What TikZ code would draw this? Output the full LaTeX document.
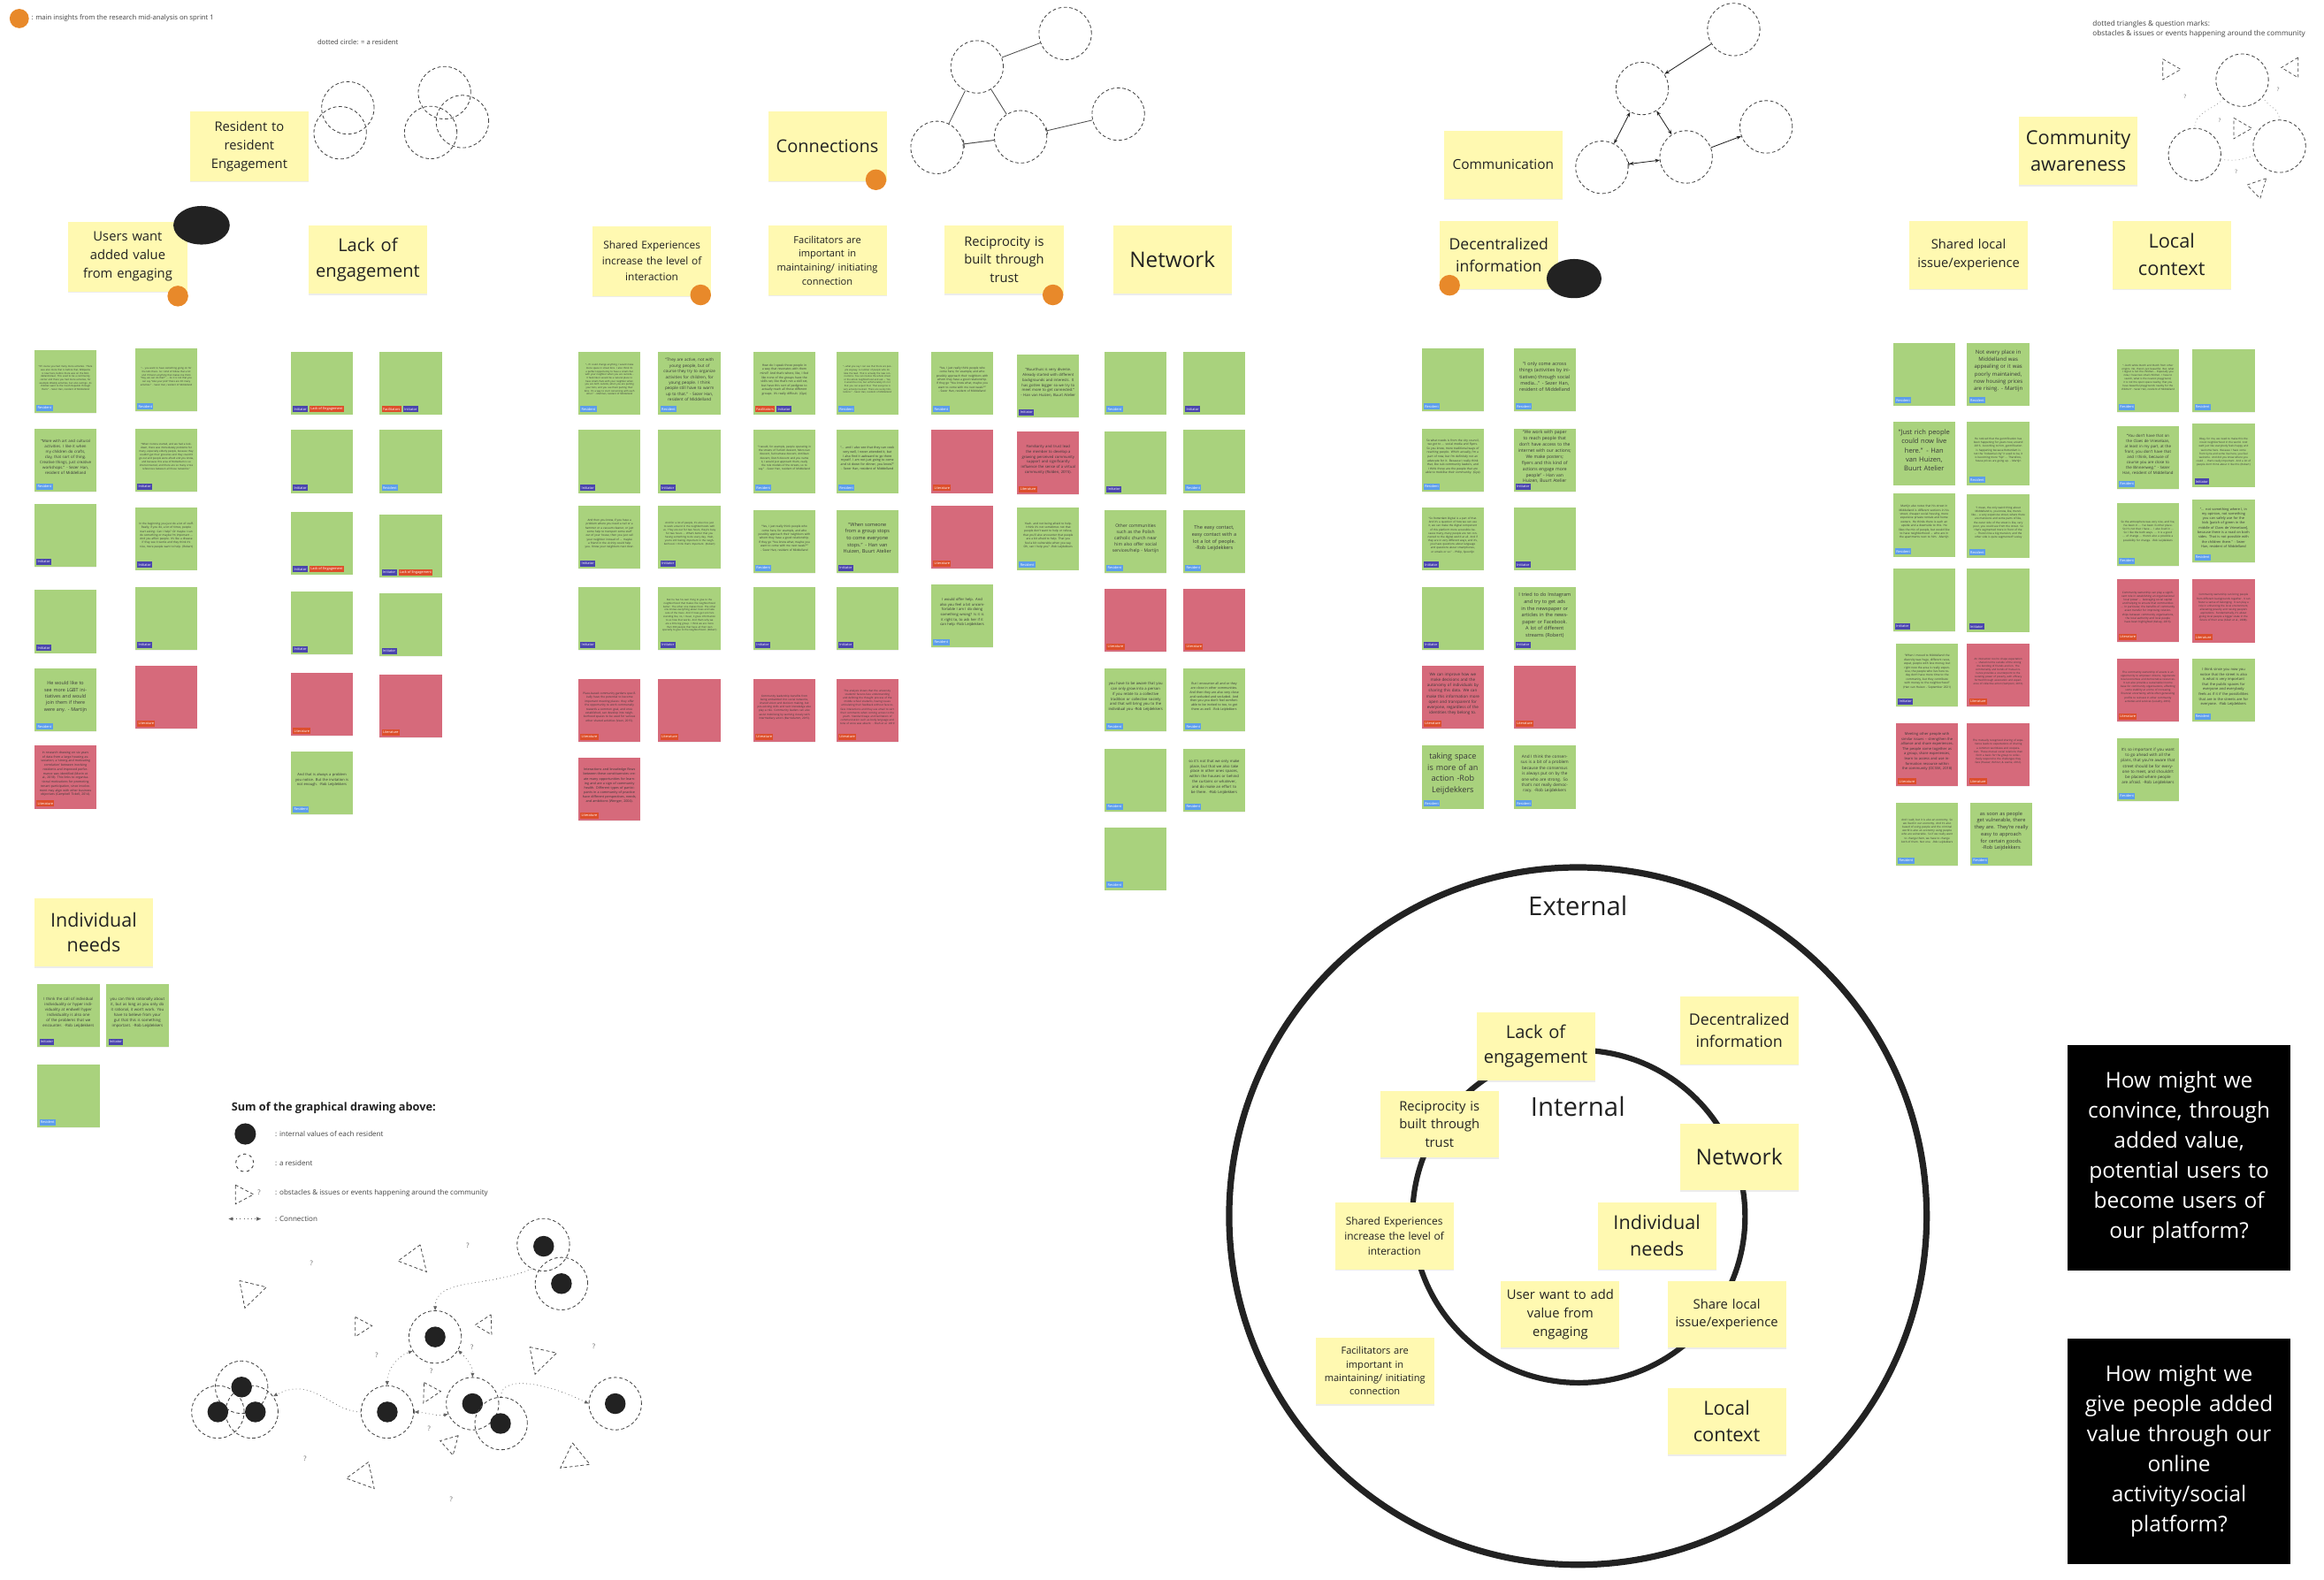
\documentclass[tikz,border=0pt]{standalone}
\usepackage{fontspec}
\setmainfont{Open Sans}
\usetikzlibrary{arrows.meta,shadows,shapes.geometric}
\definecolor{stY}{HTML}{FFF9B1}
\definecolor{stG}{HTML}{A9D27D}
\definecolor{stR}{HTML}{D66A7B}
\definecolor{tRes}{HTML}{5C9DEB}
\definecolor{tIni}{HTML}{4A45AE}
\definecolor{tLit}{HTML}{DD4E2B}
\definecolor{dotO}{HTML}{E8892A}
\definecolor{ink}{HTML}{222222}
\newcommand\fsz[1]{\fontsize{#1}{\fpeval{1.38*#1}}\selectfont}
\newcommand\fszl[2]{\fontsize{#1}{#2}\selectfont}
\tikzset{
  sticky/.style={fill=stY, inner sep=0pt, align=center, text=ink, anchor=north west,
     minimum width=80pt, minimum height=46pt, text width=77pt,
     drop shadow={shadow xshift=0pt, shadow yshift=-0.9pt, opacity=0.15}},
  notebox/.style={inner sep=0pt, anchor=north west, minimum width=42pt, minimum height=42.5pt,
     drop shadow={shadow xshift=0pt, shadow yshift=-0.4pt, opacity=0.10}},
  notetext/.style={inner sep=0pt, align=center, text width=37pt, text=ink!90},
  tagbox/.style={inner xsep=0.8pt, inner ysep=0pt, minimum height=4.2pt, text=white, anchor=south west, font=\fszl{2.3}{2.5}},
  res/.style={draw=ink!85, dash pattern=on 2.2pt off 1.6pt, line width=0.5pt},
  rescirc/.style={res, circle, minimum size=35.4pt, inner sep=0pt},
  dotc/.style={circle, fill=ink, minimum size=14pt, inner sep=0pt},
  odot/.style={circle, fill=dotO, minimum size=14pt, inner sep=0pt},
  conn/.style={draw=ink!70, dotted, line width=0.45pt},
  qm/.style={text=ink!70, font=\fszl{4.5}{5}, inner sep=0pt},
  smalltext/.style={text=ink!85, anchor=west, inner sep=0pt},
  qbox/.style={fill=black, text=white, inner sep=0pt, align=center, anchor=north west,
     minimum width=150pt, minimum height=152pt, text width=146pt, font=\fszl{14.6}{20.3}},
}
\newcommand\nt[6]{\node[notebox, fill=#4] (#1) at (#2,#3) {};
  \node[notetext, font=\fsz{#5}] at ([yshift=2.2pt]#1.center) {#6};}
\newcommand\tg[3]{\node[tagbox, fill=#2] (#1t) at ([xshift=1.4pt,yshift=1.4pt]#1.south west) {#3};}
\newcommand\tgg[5]{\tg{#1}{#2}{#3}\node[tagbox, fill=#4] at ([xshift=0.8pt]#1t.south east) {#5};}
\begin{document}
\begin{tikzpicture}[x=1pt,y=-1pt]
\useasboundingbox (0,0) rectangle (1568,1066);
\fill[white] (0,0) rectangle (1568,1066);

% ---------- top-left legend ----------
\node[odot, minimum size=13pt] (lg0) at (13,12.5) {};
\node[smalltext, font=\fszl{4.6}{5}] (lg0t) at (21,12.5) {: main insights from the research mid-analysis on sprint 1};
\node[smalltext, font=\fszl{4.6}{5}] (lgdc) at (214,28.5) {dotted circle: = a resident};

% ---------- resident to resident ----------
\node[sticky, font=\fszl{8.8}{12.4}, minimum height=47pt] (sRes) at (128,75) {Resident to\\resident\\Engagement};
\node[rescirc] (r1) at (234.7,72.8) {};
\node[rescirc] (r2) at (229.5,89.6) {};
\node[rescirc] (r3) at (299.9,62.6) {};
\node[rescirc] (r4) at (312,82) {};
\node[rescirc] (r5) at (290.6,89.4) {};

\node[sticky, font=\fszl{8.8}{12.4}, minimum height=47pt] (sUsr) at (46,149.4) {Users want\\added value\\from engaging};
\node[ellipse, fill=ink, minimum width=38pt, minimum height=26pt, inner sep=0pt] (bUsr) at (136,152) {};
\node[odot] (oUsr) at (120,199.8) {};
\node[sticky, font=\fszl{12}{17}] (sLack) at (208,152) {Lack of\\engagement};

% ---------- connections ----------
\node[sticky, font=\fszl{11.9}{15}, minimum height=47pt] (sCon) at (518,75) {Connections};
\node[odot] (oCon) at (591,121.3) {};
\node[rescirc] (nA) at (659.2,45.1) {};
\node[rescirc] (nB) at (718.7,22.6) {};
\node[rescirc] (nC) at (632.2,99.5) {};
\node[rescirc] (nD) at (688.6,92.3) {};
\node[rescirc] (nE) at (754.5,77) {};
\draw[ink!80, line width=0.5pt] (nA) -- (nB);
\draw[ink!80, line width=0.5pt] (nA) -- (nC);
\draw[ink!80, line width=0.5pt] (nA) -- (nD);
\draw[ink!80, line width=0.6pt, |-] (nC) -- (nD);
\draw[ink!80, line width=0.5pt, |-] (nD) -- (nE);

\node[sticky, font=\fszl{7.1}{10.8}, minimum height=47pt] (sShE) at (399.6,152.5) {Shared Experiences\\increase the level of\\interaction};
\node[odot] (oShE) at (472.7,199) {};
\node[sticky, font=\fszl{6.6}{9.4}, minimum height=47pt] (sFac) at (518,152) {Facilitators are\\important in\\maintaining/ initiating\\connection};
\node[sticky, font=\fszl{8.75}{12.2}] (sRec) at (637.3,152) {Reciprocity is\\built through\\trust};
\node[odot] (oRec) at (710.4,199) {};
\node[sticky, font=\fszl{14.5}{17}] (sNet) at (750.8,152) {Network};

% ---------- communication ----------
\node[sticky, font=\fszl{9.2}{12}] (sCom) at (974,88) {Communication};
\node[rescirc] (cP) at (1169.7,19.9) {};
\node[rescirc] (cQ) at (1108,59.7) {};
\node[rescirc] (cR) at (1080.8,112.9) {};
\node[rescirc] (cS) at (1137.6,105.9) {};
\node[rescirc] (cT) at (1191.6,85.6) {};
\tikzset{ar/.style={ink, line width=0.5pt}}
\draw[ar, -{Stealth[length=3.2pt,width=2.4pt]}] (cP) -- (cQ);
\draw[ar, {Stealth[length=3.2pt,width=2.4pt]}-{Stealth[length=3.2pt,width=2.4pt]}] (cQ) -- (cR);
\draw[ar, {Stealth[length=3.2pt,width=2.4pt]}-{Stealth[length=3.2pt,width=2.4pt]}] (cQ) -- (cS);
\draw[ar, {Bar[width=3pt]Stealth[length=3.2pt,width=2.4pt]}-{Stealth[length=3.2pt,width=2.4pt]}] (cR) -- (cS);
\draw[ar, -{Stealth[length=3.2pt,width=2.4pt]}] (cS) -- (cT);
\node[sticky, font=\fszl{10.5}{15.1}] (sDec) at (971,148.7) {Decentralized\\information};
\node[odot] (oDec) at (978,192.5) {};
\node[ellipse, fill=ink, minimum width=37pt, minimum height=26.4pt, inner sep=0pt] (bDec) at (1062,188) {};

% ---------- community awareness ----------
\node[smalltext, font=\fszl{4.9}{6.9}, align=left, anchor=north west] (lgtri) at (1411.7,13.5) {dotted triangles \& question marks:\\obstacles \& issues or events happening around the community};
\node[sticky, font=\fszl{13}{18.3}] (sCA) at (1362,78.6) {Community\\awareness};
\node[rescirc] (cU) at (1512.8,54.1) {};
\node[rescirc] (cV) at (1480.7,104.3) {};
\node[rescirc] (cW) at (1537.9,98.7) {};
\draw[conn, ink!50] (cU.225) to[out=225,in=90] (cV.north);
\draw[conn, ink!50] (cU.-40) to[out=-60,in=90] (cW.north);
\draw[conn, ink!50] (cV.-10) to[out=-10,in=200] (cW.200);
\draw[res, line width=0.4pt] (1459.2,39.8) -- (1471.4,46.8) -- (1459.2,53.7) -- cycle;
\draw[res, line width=0.4pt] (1550.5,38.8) -- (1539.2,45.6) -- (1550.5,52.4) -- cycle;
\draw[res, line width=0.4pt] (1507.1,79.6) -- (1519.3,86.6) -- (1507.1,93.6) -- cycle;
\draw[res, line width=0.4pt] (1529,120.4) -- (1516,124.8) -- (1524.9,134) -- cycle;
\node[qm, font=\fszl{3.6}{4}] (cq1) at (1474.2,65.3) {?};
\node[qm, font=\fszl{3.6}{4}] (cq2) at (1537.1,60.7) {?};
\node[qm, font=\fszl{3.6}{4}] (cq3) at (1497.7,81.6) {?};
\node[qm, font=\fszl{3.6}{4}] (cq4) at (1508.7,116) {?};
\node[sticky, font=\fszl{8.75}{13}] (sShL) at (1288,148.7) {Shared local\\issue/experience};
\node[sticky, font=\fszl{13}{18.5}] (sLoc) at (1425,148.7) {Local\\context};

% ---------- group A ----------
\nt{A1}{23}{236}{stG}{1.6}{“Of course you had many more activities. There was also more that is before that, Wikipedia is now here, before there was on the Middellandstraat. This used to be a community center and there you had more activities, for example Weekly activities, but also outings. As children went to the Czech Republic through them.” - Sezer Han, resident of Middelland}\tg{A1}{tRes}{Resident}
\nt{A2}{23}{289}{stG}{2.6}{“More with art and cultural activities. I like it when my children do crafts, clay, that sort of thing. Creative things, just creative workshops.” - Sezer Han, resident of Middelland}\tg{A2}{tRes}{Resident}
\nt{A3}{23}{340}{stG}{1.3}{}\tg{A3}{tIni}{Initiator}
\nt{A4}{23}{398}{stG}{1.3}{}\tg{A4}{tIni}{Initiator}
\nt{A5}{23}{451}{stG}{3.2}{He would like to see more LGBT initiatives and would join them if there were any. - Martijn}\tg{A5}{tRes}{Resident}
\nt{A6}{23}{503}{stR}{2.05}{In research drawing on six years of data from a large housing association, a ‘strong and motivating correlation’ between involving residents and improved performance was identified (Morin et al., 2018). This links to organisational motivations for promoting tenant participation, since involvement may align with other business objectives (Campbell Tickell, 2014).}\tg{A6}{tLit}{Literature}
\nt{A7}{91}{235}{stG}{1.6}{“... you want to have something going on for the kids there. So I kind of follow that a bit and if there's anything that makes me think “Hey, we can do that!” ... So it is not that you can say “Like your pick” there are SO many activities.” - Sezer Han, resident of Middelland}\tg{A7}{tRes}{Resident}
\nt{A8}{91}{289}{stG}{1.7}{“When Corona started, and we had a lockdown, there was immediately problems for many, especially elderly people, because they couldn't get their groceries and they couldn't go out and people were afraid and you know, and because this area of Rotterdam is so interconnected, and there are so many cross references between all those networks.”}\tg{A8}{tIni}{Initiator}
\nt{A9}{91}{342}{stG}{1.85}{In the beginning you just do a lot of stuff. Really, if you do, a lot of times, people start asking: Can I help? Or maybe I can do something or maybe I'm important ... And you affect people. It's like a disease if they see it works and they think it's nice, more people want to help. (Robert)}\tg{A9}{tIni}{Initiator}
\nt{A10}{91}{396}{stG}{1.3}{}\tg{A10}{tIni}{Initiator}
\nt{A11}{91}{449}{stR}{1.3}{}\tg{A11}{tLit}{Literature}

% ---------- group B ----------
\nt{B1}{196}{237}{stG}{2}{}\tgg{B1}{tIni}{Initiator}{tLit}{Lack of Engagement}
\nt{B2}{196}{290}{stG}{2}{}\tg{B2}{tIni}{Initiator}
\nt{B3}{196}{345}{stG}{2}{}\tgg{B3}{tIni}{Initiator}{tLit}{Lack of Engagement}
\nt{B4}{196}{399}{stG}{2}{}\tg{B4}{tIni}{Initiator}
\nt{B5}{196}{454}{stR}{2}{}\tg{B5}{tLit}{Literature}
\nt{B6}{196}{507}{stG}{2.4}{And that is always a problem you notice. But the invitation is not enough. -Rob Leijdekkers}\tg{B6}{tRes}{Resident}
\nt{B7}{256}{237}{stG}{1.3}{}\tgg{B7}{tLit}{Facilitators}{tIni}{Initiator}
\nt{B8}{256}{290}{stG}{1.3}{}\tg{B8}{tRes}{Resident}
\nt{B9}{256}{347}{stG}{1.3}{}\tgg{B9}{tIni}{Initiator}{tLit}{Lack of Engagement}
\nt{B10}{256}{400}{stG}{1.3}{}\tg{B10}{tIni}{Initiator}
\nt{B11}{256}{455}{stR}{1.3}{}\tg{B11}{tLit}{Literature}

% ---------- group C ----------
\nt{C1}{390}{237}{stG}{1.6}{“...if I could change anything, I would make more space in street bins. I also think it's a perfect opportunity to have a small chat with your neighbor when you are outside... It feels like it would be a natural place to have small chats with your neighbor when you are both outside, when you are putting your bins, and you see them putting their bins. It's a way to start conversing with each other.” - Mehmet, resident of Middelland}\tg{C1}{tRes}{Resident}
\nt{C2}{390}{290}{stG}{1.3}{}\tg{C2}{tIni}{Initiator}
\nt{C3}{390}{341}{stG}{1.85}{And then you know, if you have a problem where you need a nail or a hammer or a vacuum cleaner, or just some help to transport some stuff out of your house, then you just call your neighbor instead of ... maybe a friend in the vicinity could help you. Know your neighbors next door.}\tg{C3}{tIni}{Initiator}
\nt{C4}{390}{396}{stG}{1.3}{}\tg{C4}{tIni}{Initiator}
\nt{C5}{390}{458}{stR}{1.9}{Place-based community gardens specifically have the potential to become important meeting places: they offer the opportunity to work communally towards a common goal, and once established, can develop into neighborhood spaces to be used for various other shared activities (Veen, 2015).}\tg{C5}{tLit}{Literature}
\nt{C6}{390}{511}{stR}{2.2}{Interactions and knowledge flows between these constituencies create many opportunities for learning and are a sign of community health. Different types of participants in a community of practice have different perspectives, needs, and ambitions (Wenger, 2004).}\tg{C6}{tLit}{Literature}
\nt{C7}{444}{237}{stG}{2.75}{“They are active, not with young people, but of course they try to organize activities for children, for young people. I think people still have to warm up to that.” - Sezer Han, resident of Middelland}\tg{C7}{tRes}{Resident}
\nt{C8}{444}{290}{stG}{1.3}{}\tg{C8}{tIni}{Initiator}
\nt{C9}{444}{341}{stG}{1.7}{And for a lot of people, it's also nice just to work around in the neighborhoods with us. They are out for two hours, they're busy for two hours ... What's better that you having something to do every day. Yeah, you're still feeling important in the neighborhood. I think that's important. (Robert)}\tg{C9}{tIni}{Initiator}
\nt{C10}{444}{396}{stG}{1.65}{But he has his own thing to give to the neighborhood that makes the neighborhood better. The other one makes food. The other one knows everything about trees and take care of the trees. And if trees get sick he's standing like, no, I mean, it gives information to us how that works. And that's why we are a little big group. I think we are more than 300 people that have all their own specialty to give to the neighborhood. (Robert)}\tg{C10}{tIni}{Initiator}
\nt{C11}{444}{458}{stR}{1.3}{}\tg{C11}{tLit}{Literature}
\nt{C12}{508}{237}{stG}{2}{How do I speak those people in a way that resonates with them mind? And that's where, like, I feel like none of the groups have the skills set, like that's not a skill set, but have this sort of pedigree to actually reach all those different groups. It's really difficult. (Gye)}\tgg{C12}{tLit}{Facilitators}{tIni}{Initiator}
\nt{C13}{508}{290}{stG}{1.8}{“I would, for example, people operating in the streets of Turkish descent, Moroccan descent, Surinamese descent, Antillean descent, Dutch descent and you name it, I would just approach them, really the role models of the streets, so to say.” - Sezer Han, resident of Middelland}\tg{C13}{tRes}{Resident}
\nt{C14}{508}{344}{stG}{1.9}{“Yes, I just really think people who come here, for example, and who possibly approach their neighbors with whom they have a good relationship. If they go “You know what, maybe you want to come with me next week?”” - Sezer Han, resident of Middelland}\tg{C14}{tRes}{Resident}
\nt{C15}{508}{396}{stG}{1.3}{}\tg{C15}{tIni}{Initiator}
\nt{C16}{508}{458}{stR}{1.8}{Community leadership benefits from being embedded into social networks, shared vision and decision making, but pre-existing skills and tacit knowledge also play a role. Community leaders can also assist mobilising by working closely with intermediary actors (Barrisdamm, 2015).}\tg{C16}{tLit}{Literature}
\nt{C17}{564}{237}{stG}{1.55}{“...what you say I can see that there are people anyway. A number of people who do take the lead. That is actually the new connections. You can involve the whole street or the whole neighborhood and ask ... Yes, it would be nice, but unfortunately it's not that you can expect that. That everyone is very actively involved. There are surely limitations.” - Sezer Han, resident of Middelland}\tg{C17}{tRes}{Resident}
\nt{C18}{564}{290}{stG}{2.1}{“... and I also see that they can cook very well, I never attended it, but I also find it awkward to go there myself. I am not just going to come and sit down for dinner, you know?” - Sezer Han, resident of Middelland}\tg{C18}{tRes}{Resident}
\nt{C19}{564}{344}{stG}{3.3}{“When someone from a group stops to come everyone stops.” - Han van Huizen, Buurt Atelier}\tg{C19}{tIni}{Initiator}
\nt{C20}{564}{396}{stG}{1.3}{}\tg{C20}{tIni}{Initiator}
\nt{C21}{564}{458}{stR}{1.75}{The analysis shows that the university students' face-to-face understanding and defining the thought process of the middle school students, having issues articulating their feedback without face-to-face interactions and they use email to sort their comments when coming across to the youth. Standard ways and facilitators of communication such as body language and tone of voice was absent. - Shah et al. 2019}\tg{C21}{tLit}{Literature}

% ---------- group D ----------
\nt{D1}{628}{237}{stG}{1.9}{“Yes, I just really think people who come here, for example, and who possibly approach their neighbors with whom they have a good relationship. If they go “You know what, maybe you want to come with me next week?”” - Sezer Han, resident of Middelland}\tg{D1}{tRes}{Resident}
\nt{D2}{628}{290}{stR}{1.3}{}\tg{D2}{tLit}{Literature}
\nt{D3}{628}{341}{stR}{1.3}{}\tg{D3}{tLit}{Literature}
\nt{D4}{628}{394}{stG}{2.45}{I would offer help. And also you feel a bit uncomfortable I am I do doing something wrong? Is it is it right to, to ask her if it can help -Rob Leijdekkers}\tg{D4}{tRes}{Resident}
\nt{D5}{686}{239}{stG}{2.5}{“Buurthuis is very diverse. Already started with different backgrounds and interests. It has gotten bigger so we try to meet more to get connected.” - Han van Huizen, Buurt Atelier}\tg{D5}{tIni}{Initiator}
\nt{D6}{686}{291}{stR}{2.5}{Familiarity and trust lead the member to develop a growing perceived community support and significantly influence the sense of a virtual community (Rolden, 2015).}\tg{D6}{tLit}{Literature}
\nt{D7}{686}{342}{stG}{1.9}{Yeah. and not being afraid to help. I think it's not sometimes not that people don't want to help or refuse, that you'll also encounter that people are a bit afraid to help. That you feel a bit vulnerable when you say, Oh, can I help you? -Rob Leijdekkers}\tg{D7}{tRes}{Resident}
\nt{D8}{745}{237}{stG}{1.3}{}\tg{D8}{tRes}{Resident}
\nt{D9}{745}{291}{stG}{1.3}{}\tg{D9}{tIni}{Initiator}
\nt{D10}{745}{344}{stG}{3}{Other communities such as the Polish catholic church near him also offer social services/help - Martijn}\tg{D10}{tRes}{Resident}
\nt{D11}{745}{397}{stR}{1.3}{}\tg{D11}{tLit}{Literature}
\nt{D12}{745}{451}{stG}{2.5}{you have to be aware that you can only grow into a person if you relate to a collective tradition or collective society and that will bring you to the individual you -Rob Leijdekkers}\tg{D12}{tRes}{Resident}
\nt{D13}{745}{505}{stG}{1.3}{}\tg{D13}{tRes}{Resident}
\nt{D14}{745}{558}{stG}{1.3}{}\tg{D14}{tRes}{Resident}
\nt{D15}{798}{237}{stG}{1.3}{}\tg{D15}{tIni}{Initiator}
\nt{D16}{798}{290}{stG}{1.3}{}\tg{D16}{tRes}{Resident}
\nt{D17}{798}{344}{stG}{3.3}{The easy contact, easy contact with a lot a lot of people. -Rob Leijdekkers}\tg{D17}{tRes}{Resident}
\nt{D18}{798}{397}{stR}{1.5}{}\tg{D18}{tLit}{Literature}
\nt{D19}{798}{451}{stG}{2.1}{But I encounter all and or they are close in other communities. And then they are also very close and secluded and secluded. And then you you don't feel comfortable to be invited to too, to get there as well. -Rob Leijdekkers}\tg{D19}{tRes}{Resident}
\nt{D20}{798}{505}{stG}{2.5}{so it's not that we only make place, but that we also take place in other ones spaces, within the houses or behind the curtains or whatever, and do make an effort to be there. -Rob Leijdekkers}\tg{D20}{tRes}{Resident}

% ---------- group E ----------
\nt{E1}{959}{235}{stG}{1.3}{}\tg{E1}{tRes}{Resident}
\nt{E2}{959}{289}{stG}{1.95}{So what needs is from the city council, we got to ... social media and flyers. So you know, more traditional ways of reaching people. Which actually, I'm a part of now, but I'm definitely not an advocate for it. Because I really think that, like sub community leaders, and I think those are the people that are able to mobilise their community. (Gye)}\tg{E2}{tRes}{Resident}
\nt{E3}{959}{342}{stG}{1.8}{“So Rotterdam Digital is a part of that. And it's a question of how we can use it, we can make the digital component of this platform more accessible because many, many people are not connected to the digital world at all. And if they are in very different ways, and it's, you have questions about language and questions about smartphones, or emails or so.” - Philip, Spoorlijn}\tg{E3}{tIni}{Initiator}
\nt{E4}{959}{396}{stG}{1.3}{}\tg{E4}{tIni}{Initiator}
\nt{E5}{959}{449}{stR}{2.7}{We can improve how we make decisions and the autonomy of individuals by sharing this data. We can make this information more open and transparent for everyone, regardless of the identities they belong to.}\tg{E5}{tLit}{Literature}
\nt{E6}{959}{503}{stG}{5.4}{taking space is more of an action -Rob Leijdekkers}\tg{E6}{tRes}{Resident}
\nt{E7}{1021}{235}{stG}{3.2}{“I only come across things (activities by initiatives) through social media...” - Sezer Han, resident of Middelland}\tg{E7}{tRes}{Resident}
\nt{E8}{1021}{289}{stG}{3}{“We work with paper to reach people that don't have access to the internet with our actions; We make posters; flyers and this kind of actions engage more people” - Han van Huizen, Buurt Atelier}\tg{E8}{tIni}{Initiator}
\nt{E9}{1021}{342}{stG}{1.3}{}\tg{E9}{tIni}{Initiator}
\nt{E10}{1021}{396}{stG}{3.3}{I tried to do Instagram and try to get ads in the newspaper or articles in the newspaper or Facebook. A lot of different streams (Robert)}\tg{E10}{tIni}{Initiator}
\nt{E11}{1021}{449}{stR}{1.3}{}\tg{E11}{tLit}{Literature}
\nt{E12}{1021}{503}{stG}{2.8}{And I think the consensus is a bit of a problem because the consensus is always put on by the one who are strong. So that's not really democracy. -Rob Leijdekkers}\tg{E12}{tRes}{Resident}

% ---------- group F (shared local) ----------
\nt{F1}{1277}{231}{stG}{1.3}{}\tg{F1}{tRes}{Resident}
\nt{F2}{1277}{284.6}{stG}{4.5}{“Just rich people could now live here.” - Han van Huizen, Buurt Atelier}
\nt{F3}{1277}{333}{stG}{1.9}{Martijn also notes that his street in Middelland is different sections in his street; cheaper social housing, more expensive private rentals and home owners. He thinks there is each an upside and a downside to this. He likes the mix of people, but would like to have neighborhood ... who are in the apartments next to him. -Martijn}\tg{F3}{tRes}{Resident}
\nt{F4}{1277}{383.5}{stG}{1.3}{}\tg{F4}{tIni}{Initiator}
\nt{F5}{1279}{434}{stG}{1.9}{“When I moved to Middelland the diversity was huge, different races, expat, people with less money, but right now the area is really expensive, the people who live here today don't have more time to the community, but they contribute with money to the neighborhood” (Han van Huizen - September 2021)}\tg{F5}{tIni}{Initiator}
\nt{F6}{1279}{488}{stR}{2.4}{Meeting other people with similar issues – strengthen the alliance and share experiences. The people come together as a group, share experiences, learn to access and use information resource within the community (DCSSK, 2018)}\tg{F6}{tLit}{Literature}
\nt{F7}{1279}{541.6}{stG}{1.8}{And I said, but it is also an economy. So we lived in our economy. And it's also based of using people and the criminal world is also an economy using people who are vulnerable. So if we really want to change them, we have to change both of them. Not one. -Rob Leijdekkers}\tg{F7}{tRes}{Resident}
\nt{F8}{1327}{231}{stG}{3.6}{Not every place in Middelland was appealing or it was poorly maintained, now housing prices are rising. - Martijn}\tg{F8}{tRes}{Resident}
\nt{F9}{1327}{284.6}{stG}{1.8}{He noticed that the gentrification has been happening for years now, around 2016. According to him, gentrification is happening because Rotterdam is not the “industrial city” it used to be, it is becoming more “hip” ... Therefore, house prices are going up. - Martijn}\tg{F9}{tRes}{Resident}
\nt{F10}{1327}{333.5}{stG}{1.8}{“I mean, the only weird thing about Middelland is, you know, like, there's like... a very expensive street, where there are mansions and some parts of like, the outer side of the street is like, very poor, you could see from the street. So that's segmented more in front of the ... There's like a big mansion, and the other side is quite segmented” Lesley}\tg{F10}{tRes}{Resident}
\nt{F11}{1327}{383.7}{stG}{1.2}{}\tg{F11}{tIni}{Initiator}
\nt{F12}{1327}{434}{stR}{1.7}{An interaction tool to shape expectation ... shared norms outside of the strong the bonding of friends and kin. The commonality and bonds of mutual reliance provides a counterpoint to the isolating power of poverty, with efficacy formed through association and experience of collective action (Sampson, 2013).}\tg{F12}{tLit}{Literature}
\nt{F13}{1327}{488}{stR}{1.75}{The mutually recognized sharing of experience leads to expectations of sharing a common worldview and cooperation. These mutual social relations then form a basis for the group to collectively respond to the challenges they face (Hauser, Rohrer, \& Lavine, 2012).}\tg{F13}{tLit}{Literature}
\nt{F14}{1329}{541.6}{stG}{3.35}{as soon as people get vulnerable, there they are. They're really easy to approach for certain goods. -Rob Leijdekkers}\tg{F14}{tRes}{Resident}

% ---------- group G (local context) ----------
\nt{G1}{1428}{235.5}{stG}{1.7}{“...both white Dutch and Dutch from other origins. No, there's just beautiful. But, what I regret is not the children... Especially you now, I have two small children. I have to search, what is the nearest playground, it is not the open space nearby, that you have beautiful playgrounds nearby for the children” - Sezer Han, resident of Middelland}\tg{G1}{tRes}{Resident}
\nt{G2}{1428}{287.4}{stG}{2.6}{“You don't have that on the Claes de Vrieselaan, at least in my part, at the front, you don't have that and I think, because of course you are close to the Binnenweg.” - Sezer Han, resident of Middelland}\tg{G2}{tRes}{Resident}
\nt{G3}{1428}{339.3}{stG}{1.8}{So the atmosphere was very nice, and I've, I've been in ... I've been in other place. So it's not that I have ... I also lived in ... So I like the both ways. ... it is a good ... of change ... there's also a possible a possibility for change. -Rob Leijdekkers}\tg{G3}{tRes}{Resident}
\nt{G4}{1428}{390.6}{stR}{1.8}{Community ownership can play a significant role in establishing an organisational local power ... leveraging social capital and helping to ensure that communities ... In particular, the benefits of community asset transfer for improving relationships between community organisations, the local authority and local people have been highlighted (Kelsey, 2016).}\tg{G4}{tLit}{Literature}
\nt{G5}{1428}{444.4}{stR}{1.75}{The community ownership of assets is an opportunity to empower citizens, regenerate local economies and democratise resources. It can also provide a sustainable income base for community organisations, affording some stability at a time of increasing financial uncertainty, while often generating profits to reinvest in other community activities and services (Locality, 2016).}\tg{G5}{tLit}{Literature}
\nt{G6}{1428}{498}{stG}{2.7}{It's so important if you want to go ahead with all the plans, that you're aware that street should be for everyone to meet, and shouldn't be placed where people are afraid. -Rob Leijdekkers}\tg{G6}{tRes}{Resident}
\nt{G7}{1479}{235.5}{stG}{1.2}{}\tg{G7}{tRes}{Resident}
\nt{G8}{1479}{285.8}{stG}{1.75}{Okay, for me, we need to make this the nicest neighborhood in the world. And we'd just like everybody feels happy and welcome here. Because I have come from Syria and some live here, you feel welcome. And did you know where you could ... that's really important. And a lot of people don't think about it like this (Robert)}\tg{G8}{tIni}{Initiator}
\nt{G9}{1479}{337}{stG}{2.3}{“... not something where I, in my opinion, not something you can safely use for the kids [patch of green in the middle of Claes de Vrieselaan], because there is a road on both sides. That is not possible with the children there.” - Sezer Han, resident of Middelland}\tg{G9}{tRes}{Resident}
\nt{G10}{1479}{390.8}{stR}{1.75}{Community ownership can bring people from different backgrounds together. It can foster a sense of belonging. It can play a role in enhancing the local environment, alleviating poverty and raising people's aspirations. Fundamentally, it's about giving local people a bigger stake in the future of their area (Aiken et al., 2008).}\tg{G10}{tLit}{Literature}
\nt{G11}{1479}{444.4}{stG}{2.4}{I think since you now you notice that the street is also is what is very important that the public spaces for everyone and everybody feels as if it if the possibilities that are in the streets are for everyone. -Rob Leijdekkers}\tg{G11}{tRes}{Resident}

% ---------- individual needs ----------
\node[sticky, font=\fszl{12.8}{16.8}] (sInd) at (23,606) {Individual\\needs};
\nt{H1}{25}{664}{stG}{2.6}{I think the call of individual individuality or hyper individuality at endwell hyper individuality is also one of the problems that we encounter. -Rob Leijdekkers}\tg{H1}{tIni}{Initiator}
\nt{H2}{71.5}{664}{stG}{2.6}{you can think rationally about it, but as long as you only do it rational, it won't work. You have to believe from your gut that this is something important. -Rob Leijdekkers}\tg{H2}{tIni}{Initiator}
\nt{H3}{25}{718}{stG}{1.3}{}\tg{H3}{tRes}{Resident}

% ---------- legend of drawing ----------
\node[anchor=west, inner sep=0pt, font=\bfseries\fszl{7.6}{9}, text=ink] (lgT) at (156,747.5) {Sum of the graphical drawing above:};
\node[dotc, minimum size=14.4pt] (lgD) at (165.5,765.2) {};
\node[smalltext, font=\fszl{4.8}{5}] (lgDt) at (185.5,765.2) {: internal values of each resident};
\node[circle, inner sep=0pt, minimum size=12pt, draw=ink!85, line width=0.55pt, dash pattern=on 2pt off 2.2pt] (lgC) at (165.1,784.7) {};
\node[smalltext, font=\fszl{4.8}{5}] (lgCt) at (185.5,784.7) {: a resident};
\draw[res, line width=0.45pt] (158.8,799.6) -- (171.1,806) -- (158.8,812.5) -- cycle;
\node[qm, font=\fszl{4.6}{5}] (lgq) at (174.9,805) {?};
\node[smalltext, font=\fszl{4.8}{5}] (lgTt) at (185.5,805) {: obstacles \& issues or events happening around the community};
\coordinate (lgA1) at (154.2,822.5);
\coordinate (lgA2) at (176.1,822.5);
\draw[conn, {Triangle[length=3pt,width=2.4pt]}-{Triangle[length=3pt,width=2.4pt]}] (lgA1) -- (lgA2);
\node[smalltext, font=\fszl{4.8}{5}] (lgAt) at (185.5,822.5) {: Connection};

% ---------- bottom-left network ----------
\node[rescirc] (bA) at (163,936.1) {};
\node[rescirc] (bB) at (147,952.8) {};
\node[rescirc] (bC) at (169.9,952.8) {};
\node[dotc] (dA) at (163,936) {};
\node[dotc] (dB) at (147,952.8) {};
\node[dotc] (dC) at (172.3,952.8) {};
\node[rescirc] (bN1) at (261.3,952.8) {};
\node[dotc] (dN1) at (261.3,952.8) {};
\node[rescirc] (bN2) at (293.6,902.2) {};
\node[dotc] (dN2) at (293.6,902.2) {};
\node[rescirc] (bN3) at (318.8,947.2) {};
\node[dotc] (dN3) at (318.8,947.2) {};
\node[rescirc] (bN3b) at (338.1,960.6) {};
\node[dotc] (dN3b) at (337.7,960.6) {};
\node[rescirc] (bN4) at (415.1,947.2) {};
\node[dotc] (dN4) at (415.1,947.2) {};
\node[rescirc] (bN5) at (366.6,840) {};
\node[dotc] (dN5) at (366.8,841) {};
\node[rescirc] (bN5b) at (378.8,866.2) {};
\node[dotc] (dN5b) at (378.8,866.2) {};
\draw[conn, -{Triangle[length=2.8pt,width=2.3pt]}] (bN5.244) .. controls (330,869) and (294,862) .. (bN2.north);
\draw[conn, {Triangle[length=2.8pt,width=2.3pt]}-{Triangle[length=2.8pt,width=2.3pt]}] (bN1.north) .. controls (261,925) and (268,915) .. (bN2.212);
\draw[conn, {Triangle[length=2.8pt,width=2.3pt]}-{Triangle[length=2.8pt,width=2.3pt]}] (bN2.330) .. controls (316,918) and (319,922) .. (bN3.north);
\draw[conn, {Bar[width=3pt]Triangle[length=2.8pt,width=2.3pt]}-{Triangle[length=2.8pt,width=2.3pt]}] (bN1.east) .. controls (288,953) and (295,956) .. (bN3.203);
\draw[conn, -{Triangle[length=2.8pt,width=2.3pt]}] (bN1.west) .. controls (224,953) and (211,928) .. (bC.36);
\draw[conn, -{Triangle[length=2.8pt,width=2.3pt]}] (bN3b.north) .. controls (337,930) and (362,930) .. (bN4.west);
\tikzset{tri/.style={res, line width=0.45pt}}
\draw[tri] (283.5,840) -- (268.5,850.9) -- (287.8,858.3) -- cycle;
\draw[tri] (161.6,864.2) -- (179.7,868.6) -- (165.2,882.7) -- cycle;
\draw[tri] (239.7,888.7) -- (251,894.7) -- (239.7,902) -- cycle;
\draw[tri] (331.3,887.1) -- (331.7,900.7) -- (320.6,894.1) -- cycle;
\draw[tri] (357.4,909) -- (375.6,913) -- (361,927.3) -- cycle;
\draw[tri] (286.1,932.9) -- (297.4,938.9) -- (285.7,946.8) -- cycle;
\draw[tri] (309.2,968.7) -- (297,972.3) -- (305.6,982) -- cycle;
\draw[tri] (386.3,973.7) -- (398,988.2) -- (378.1,990.6) -- cycle;
\draw[tri] (248.6,986.6) -- (233.7,997.6) -- (252.5,1004.5) -- cycle;
\node[qm] (q1) at (210.1,852.3) {?};
\node[qm] (q2) at (315.6,840.4) {?};
\node[qm] (q3) at (254.2,914.4) {?};
\node[qm] (q4) at (318.4,909) {?};
\node[qm] (q5) at (291,925) {?};
\node[qm] (q6) at (400.6,908.4) {?};
\node[qm] (q7) at (289.5,964.3) {?};
\node[qm] (q8) at (205.8,984.2) {?};
\node[qm] (q9) at (304.5,1011.5) {?};

% ---------- circle diagram ----------
\node[circle, draw=ink, line width=4.3pt, minimum size=470.6pt, inner sep=0pt] (outer) at (1064.6,820.6) {};
\node[circle, draw=ink, line width=3.7pt, minimum size=224.4pt, inner sep=0pt] (inner) at (1065.2,820.9) {};
\node[inner sep=0pt, font=\fszl{17.5}{20}, text=ink] (tExt) at (1064.6,611.1) {External};
\node[inner sep=0pt, font=\fszl{17.5}{20}, text=ink] (tInt) at (1064.6,746.7) {Internal};
\node[sticky, font=\fszl{12}{17}] (dLack) at (995.9,682.9) {Lack of\\engagement};
\node[sticky, font=\fszl{10.6}{14.8}] (dDec) at (1133.2,672.1) {Decentralized\\information};
\node[sticky, font=\fszl{8.8}{12.3}, minimum height=45pt] (dRec) at (931,735.9) {Reciprocity is\\built through\\trust};
\node[sticky, font=\fszl{14.7}{17}, minimum height=45pt] (dNet) at (1133.2,758) {Network};
\node[sticky, font=\fszl{7.1}{10.2}, minimum height=45pt] (dShE) at (900.5,811.3) {Shared Experiences\\increase the level of\\interaction};
\node[sticky, font=\fszl{12.9}{17.9}, minimum height=45pt] (dInd) at (1077.7,811.3) {Individual\\needs};
\node[sticky, font=\fszl{8.8}{12.3}, minimum height=45pt] (dUsr) at (1012.5,864.3) {User want to add\\value from\\engaging};
\node[sticky, font=\fszl{8.8}{12.3}, minimum height=45pt] (dShL) at (1124.8,864.3) {Share local\\issue/experience};
\node[sticky, font=\fszl{6.6}{9.2}, minimum height=45pt] (dFac) at (887.4,902.5) {Facilitators are\\important in\\maintaining/ initiating\\connection};
\node[sticky, font=\fszl{13}{17.9}, minimum height=45pt] (dLoc) at (1124.8,936.4) {Local\\context};

% ---------- question boxes ----------
\node[qbox] (hmw1) at (1395,705) {How might we\\convince, through\\added value,\\potential users to\\become users of\\our platform?};
\node[qbox] (hmw2) at (1395,903) {How might we\\give people added\\value through our\\online\\activity/social\\platform?};
\end{tikzpicture}
\end{document}
